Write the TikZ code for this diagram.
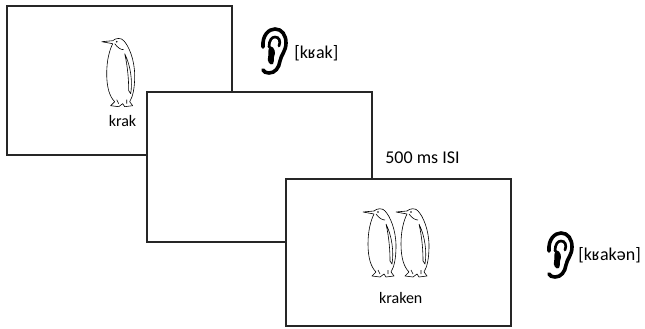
\documentclass[tikz,border=0pt]{standalone}
\usepackage{fontspec}
\setmainfont{Carlito}

\tikzset{
  screen/.style={draw=black!85,line width=1.5pt,fill=white},
  word/.style={anchor=base,font=\fontsize{12}{14}\selectfont},
  sound/.style={anchor=base west,inner sep=0,font=\fontsize{13.5}{16}\selectfont},
  penguin/.pic={
    \begin{scope}[line width=0.45pt,line join=round]
      \draw (0,0) -- (11,-1) (0,0) -- (11,2);
      \draw (11,-1) .. controls (14,-4) and (20,-4) .. (22,-1)
        .. controls (27,4) and (33,18) .. (33,34)
        .. controls (33,47) and (31,55) .. (28,60);
      \draw (11,2) .. controls (8,8) and (5,18) .. (5,32)
        .. controls (5,46) and (8,55) .. (13,60);
      \draw (23,12) .. controls (29,24) and (31,40) .. (29,52) -- (27,49)
        .. controls (27,38) and (26,25) .. (23,12);
      \draw (13,2) .. controls (16,6) and (19,8) .. (22,8);
      \draw (13,60) -- (9,64) -- (17,65) -- (21,62) -- (23,65) -- (31,64) -- (28,60);
      \draw (15,58) -- (17,62) (25,58) -- (25,62);
      \fill (15,0) circle (0.9);
    \end{scope}
  },
  ear/.pic={
    \draw[line width=2.7pt,line cap=round]
      (3,19) .. controls (2,7) and (9,1) .. (15,1)
      .. controls (22,1) and (26,7) .. (26,15)
      .. controls (26,23) and (21,27) .. (20,33)
      .. controls (19,40) and (15,45) .. (9,45)
      .. controls (6,45) and (4,44) .. (3,42);
    \draw[line width=2pt,line cap=round]
      (9,19) .. controls (9,12) and (12,9) .. (15,9)
      .. controls (19,9) and (21,13) .. (19,18);
    \fill (10,18) .. controls (15,19) and (16,25) .. (14,29)
      .. controls (13,32) and (15,34) .. (13,36)
      .. controls (10,38) and (7,33) .. (8,30)
      .. controls (9,27) and (7,23) .. (10,18) -- cycle;
  }
}

\begin{document}
\begin{tikzpicture}[x=0.75pt,y=-0.75pt]
  \useasboundingbox (0,0) rectangle (645,328);

  \draw[screen] (7,6) rectangle (232,155);
  \pic at (101.7,41.7) {penguin};
  \node[word] (w1) at (122.5,126) {krak};
  \pic at (260,28) {ear};
  \node[sound] (s1) at (294,59) {[kʁak]};

  \draw[screen] (147,92) rectangle (372,242);
  \node[anchor=base,font=\fontsize{13.5}{16}\selectfont] (isi) at (422.5,163) {500 ms ISI};

  \draw[screen] (286,179) rectangle (511,326);
  \pic at (363,212) {penguin};
  \pic at (396,212) {penguin};
  \node[word] (w2) at (400.7,303) {kraken};
  \pic at (546,232) {ear};
  \node[sound] (s2) at (578,260) {[kʁakən]};
\end{tikzpicture}
\end{document}
